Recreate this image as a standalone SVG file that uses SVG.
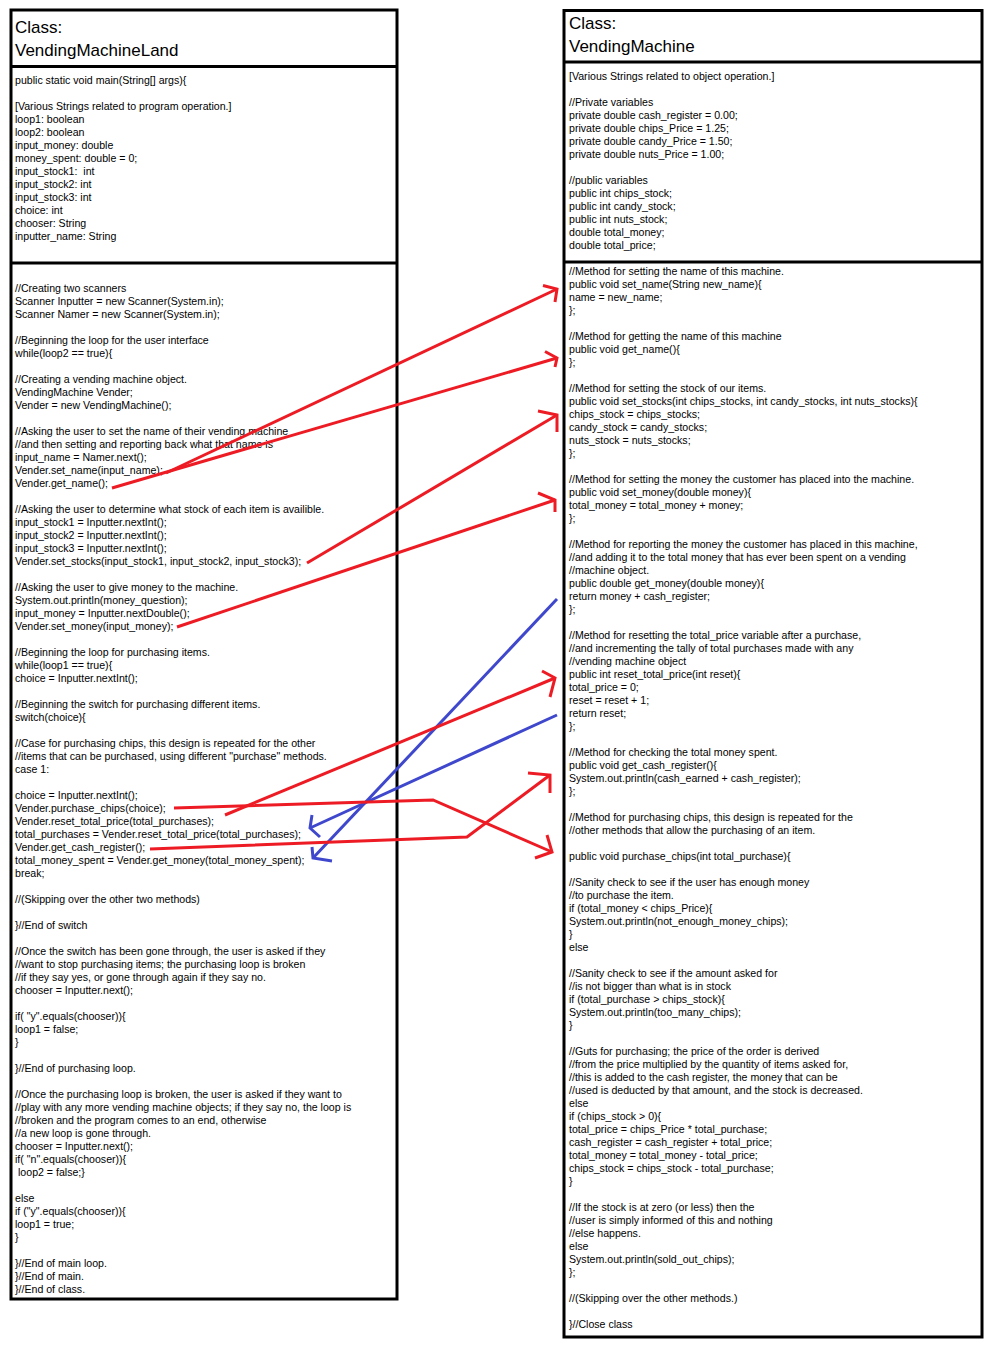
<svg xmlns="http://www.w3.org/2000/svg" width="996" height="1354" viewBox="0 0 996 1354">
<style>
.box{fill:#fff;stroke:#000;stroke-width:3}
.sep{stroke:#000;stroke-width:3}
.h{font-family:"Liberation Sans",Arial,sans-serif;font-size:17px;fill:#000}
.t{font-family:"Liberation Sans",Arial,sans-serif;font-size:10.6px;fill:#000}
.r{fill:none;stroke:#ED1C24;stroke-width:3;stroke-linejoin:miter}
.b{fill:none;stroke:#3F48CC;stroke-width:3;stroke-linejoin:miter}
</style>
<rect width="996" height="1354" fill="#fff"/>
<g id="VendingMachineLand">
<rect class="box" x="11" y="10" width="386" height="1289"/>
<line class="sep" x1="11" y1="66.5" x2="397" y2="66.5"/>
<line class="sep" x1="11" y1="263" x2="397" y2="263"/>
<text class="h"><tspan x="15" y="33">Class:</tspan><tspan x="15" y="56">VendingMachineLand</tspan></text>
<text class="t">
<tspan x="15" y="84">public static void main(String[] args){</tspan>
<tspan x="15" y="110">[Various Strings related to program operation.]</tspan>
<tspan x="15" y="123">loop1: boolean</tspan>
<tspan x="15" y="136">loop2: boolean</tspan>
<tspan x="15" y="149">input_money: double</tspan>
<tspan x="15" y="162">money_spent: double = 0;</tspan>
<tspan x="15" y="175" xml:space="preserve">input_stock1:  int</tspan>
<tspan x="15" y="188">input_stock2: int</tspan>
<tspan x="15" y="201">input_stock3: int</tspan>
<tspan x="15" y="214">choice: int</tspan>
<tspan x="15" y="227">chooser: String</tspan>
<tspan x="15" y="240">inputter_name: String</tspan>
</text>
<text class="t">
<tspan x="15" y="292">//Creating two scanners</tspan>
<tspan x="15" y="305">Scanner Inputter = new Scanner(System.in);</tspan>
<tspan x="15" y="318">Scanner Namer = new Scanner(System.in);</tspan>
<tspan x="15" y="344">//Beginning the loop for the user interface</tspan>
<tspan x="15" y="357">while(loop2 == true){</tspan>
<tspan x="15" y="383">//Creating a vending machine object.</tspan>
<tspan x="15" y="396">VendingMachine Vender;</tspan>
<tspan x="15" y="409">Vender = new VendingMachine();</tspan>
<tspan x="15" y="435">//Asking the user to set the name of their vending machine</tspan>
<tspan x="15" y="448">//and then setting and reporting back what that name is</tspan>
<tspan x="15" y="461">input_name = Namer.next();</tspan>
<tspan x="15" y="474">Vender.set_name(input_name);</tspan>
<tspan x="15" y="487">Vender.get_name();</tspan>
<tspan x="15" y="513">//Asking the user to determine what stock of each item is availible.</tspan>
<tspan x="15" y="526">input_stock1 = Inputter.nextInt();</tspan>
<tspan x="15" y="539">input_stock2 = Inputter.nextInt();</tspan>
<tspan x="15" y="552">input_stock3 = Inputter.nextInt();</tspan>
<tspan x="15" y="565">Vender.set_stocks(input_stock1, input_stock2, input_stock3);</tspan>
<tspan x="15" y="591">//Asking the user to give money to the machine.</tspan>
<tspan x="15" y="604">System.out.println(money_question);</tspan>
<tspan x="15" y="617">input_money = Inputter.nextDouble();</tspan>
<tspan x="15" y="630">Vender.set_money(input_money);</tspan>
<tspan x="15" y="656">//Beginning the loop for purchasing items.</tspan>
<tspan x="15" y="669">while(loop1 == true){</tspan>
<tspan x="15" y="682">choice = Inputter.nextInt();</tspan>
<tspan x="15" y="708">//Beginning the switch for purchasing different items.</tspan>
<tspan x="15" y="721">switch(choice){</tspan>
<tspan x="15" y="747">//Case for purchasing chips, this design is repeated for the other</tspan>
<tspan x="15" y="760">//items that can be purchased, using different "purchase" methods.</tspan>
<tspan x="15" y="773">case 1:</tspan>
<tspan x="15" y="799">choice = Inputter.nextInt();</tspan>
<tspan x="15" y="812">Vender.purchase_chips(choice);</tspan>
<tspan x="15" y="825">Vender.reset_total_price(total_purchases);</tspan>
<tspan x="15" y="838">total_purchases = Vender.reset_total_price(total_purchases);</tspan>
<tspan x="15" y="851">Vender.get_cash_register();</tspan>
<tspan x="15" y="864">total_money_spent = Vender.get_money(total_money_spent);</tspan>
<tspan x="15" y="877">break;</tspan>
<tspan x="15" y="903">//(Skipping over the other two methods)</tspan>
<tspan x="15" y="929">}//End of switch</tspan>
<tspan x="15" y="955">//Once the switch has been gone through, the user is asked if they</tspan>
<tspan x="15" y="968">//want to stop purchasing items; the purchasing loop is broken</tspan>
<tspan x="15" y="981">//if they say yes, or gone through again if they say no.</tspan>
<tspan x="15" y="994">chooser = Inputter.next();</tspan>
<tspan x="15" y="1020">if( "y".equals(chooser)){</tspan>
<tspan x="15" y="1033">loop1 = false;</tspan>
<tspan x="15" y="1046">}</tspan>
<tspan x="15" y="1072">}//End of purchasing loop.</tspan>
<tspan x="15" y="1098">//Once the purchasing loop is broken, the user is asked if they want to</tspan>
<tspan x="15" y="1111">//play with any more vending machine objects; if they say no, the loop is</tspan>
<tspan x="15" y="1124">//broken and the program comes to an end, otherwise</tspan>
<tspan x="15" y="1137">//a new loop is gone through.</tspan>
<tspan x="15" y="1150">chooser = Inputter.next();</tspan>
<tspan x="15" y="1163">if( "n".equals(chooser)){</tspan>
<tspan x="18" y="1176">loop2 = false;}</tspan>
<tspan x="15" y="1202">else</tspan>
<tspan x="15" y="1215">if ("y".equals(chooser)){</tspan>
<tspan x="15" y="1228">loop1 = true;</tspan>
<tspan x="15" y="1241">}</tspan>
<tspan x="15" y="1267">}//End of main loop.</tspan>
<tspan x="15" y="1280">}//End of main.</tspan>
<tspan x="15" y="1293">}//End of class.</tspan>
</text>
</g>
<g id="VendingMachine">
<rect class="box" x="564" y="10.5" width="418" height="1326.5"/>
<line class="sep" x1="564" y1="62" x2="982" y2="62"/>
<line class="sep" x1="564" y1="262" x2="982" y2="262"/>
<text class="h"><tspan x="569" y="29">Class:</tspan><tspan x="569" y="52">VendingMachine</tspan></text>
<text class="t">
<tspan x="569" y="80">[Various Strings related to object operation.]</tspan>
<tspan x="569" y="106">//Private variables</tspan>
<tspan x="569" y="119">private double cash_register = 0.00;</tspan>
<tspan x="569" y="132">private double chips_Price = 1.25;</tspan>
<tspan x="569" y="145">private double candy_Price = 1.50;</tspan>
<tspan x="569" y="158">private double nuts_Price = 1.00;</tspan>
<tspan x="569" y="184">//public variables</tspan>
<tspan x="569" y="197">public int chips_stock;</tspan>
<tspan x="569" y="210">public int candy_stock;</tspan>
<tspan x="569" y="223">public int nuts_stock;</tspan>
<tspan x="569" y="236">double total_money;</tspan>
<tspan x="569" y="249">double total_price;</tspan>
</text>
<text class="t">
<tspan x="569" y="275">//Method for setting the name of this machine.</tspan>
<tspan x="569" y="288">public void set_name(String new_name){</tspan>
<tspan x="569" y="301">name = new_name;</tspan>
<tspan x="569" y="314">};</tspan>
<tspan x="569" y="340">//Method for getting the name of this machine</tspan>
<tspan x="569" y="353">public void get_name(){</tspan>
<tspan x="569" y="366">};</tspan>
<tspan x="569" y="392">//Method for setting the stock of our items.</tspan>
<tspan x="569" y="405">public void set_stocks(int chips_stocks, int candy_stocks, int nuts_stocks){</tspan>
<tspan x="569" y="418">chips_stock = chips_stocks;</tspan>
<tspan x="569" y="431">candy_stock = candy_stocks;</tspan>
<tspan x="569" y="444">nuts_stock = nuts_stocks;</tspan>
<tspan x="569" y="457">};</tspan>
<tspan x="569" y="483">//Method for setting the money the customer has placed into the machine.</tspan>
<tspan x="569" y="496">public void set_money(double money){</tspan>
<tspan x="569" y="509">total_money = total_money + money;</tspan>
<tspan x="569" y="522">};</tspan>
<tspan x="569" y="548">//Method for reporting the money the customer has placed in this machine,</tspan>
<tspan x="569" y="561">//and adding it to the total money that has ever been spent on a vending</tspan>
<tspan x="569" y="574">//machine object.</tspan>
<tspan x="569" y="587">public double get_money(double money){</tspan>
<tspan x="569" y="600">return money + cash_register;</tspan>
<tspan x="569" y="613">};</tspan>
<tspan x="569" y="639">//Method for resetting the total_price variable after a purchase,</tspan>
<tspan x="569" y="652">//and incrementing the tally of total purchases made with any</tspan>
<tspan x="569" y="665">//vending machine object</tspan>
<tspan x="569" y="678">public int reset_total_price(int reset){</tspan>
<tspan x="569" y="691">total_price = 0;</tspan>
<tspan x="569" y="704">reset = reset + 1;</tspan>
<tspan x="569" y="717">return reset;</tspan>
<tspan x="569" y="730">};</tspan>
<tspan x="569" y="756">//Method for checking the total money spent.</tspan>
<tspan x="569" y="769">public void get_cash_register(){</tspan>
<tspan x="569" y="782">System.out.println(cash_earned + cash_register);</tspan>
<tspan x="569" y="795">};</tspan>
<tspan x="569" y="821">//Method for purchasing chips, this design is repeated for the</tspan>
<tspan x="569" y="834">//other methods that allow the purchasing of an item.</tspan>
<tspan x="569" y="860">public void purchase_chips(int total_purchase){</tspan>
<tspan x="569" y="886">//Sanity check to see if the user has enough money</tspan>
<tspan x="569" y="899">//to purchase the item.</tspan>
<tspan x="569" y="912">if (total_money &lt; chips_Price){</tspan>
<tspan x="569" y="925">System.out.println(not_enough_money_chips);</tspan>
<tspan x="569" y="938">}</tspan>
<tspan x="569" y="951">else</tspan>
<tspan x="569" y="977">//Sanity check to see if the amount asked for</tspan>
<tspan x="569" y="990">//is not bigger than what is in stock</tspan>
<tspan x="569" y="1003">if (total_purchase &gt; chips_stock){</tspan>
<tspan x="569" y="1016">System.out.println(too_many_chips);</tspan>
<tspan x="569" y="1029">}</tspan>
<tspan x="569" y="1055">//Guts for purchasing; the price of the order is derived</tspan>
<tspan x="569" y="1068">//from the price multiplied by the quantity of items asked for,</tspan>
<tspan x="569" y="1081">//this is added to the cash register, the money that can be</tspan>
<tspan x="569" y="1094">//used is deducted by that amount, and the stock is decreased.</tspan>
<tspan x="569" y="1107">else</tspan>
<tspan x="569" y="1120">if (chips_stock &gt; 0){</tspan>
<tspan x="569" y="1133">total_price = chips_Price * total_purchase;</tspan>
<tspan x="569" y="1146">cash_register = cash_register + total_price;</tspan>
<tspan x="569" y="1159">total_money = total_money - total_price;</tspan>
<tspan x="569" y="1172">chips_stock = chips_stock - total_purchase;</tspan>
<tspan x="569" y="1185">}</tspan>
<tspan x="569" y="1211">//If the stock is at zero (or less) then the</tspan>
<tspan x="569" y="1224">//user is simply informed of this and nothing</tspan>
<tspan x="569" y="1237">//else happens.</tspan>
<tspan x="569" y="1250">else</tspan>
<tspan x="569" y="1263">System.out.println(sold_out_chips);</tspan>
<tspan x="569" y="1276">};</tspan>
<tspan x="569" y="1302">//(Skipping over the other methods.)</tspan>
<tspan x="569" y="1328">}//Close class</tspan>
</text>
</g>
<g id="connectors">
<g id="call-set_name"><path class="r" d="M166,473 L557,289"/><path class="r" d="M543,285.5 L557,289 L555,302"/></g>
<g id="call-get_name"><path class="r" d="M112,488 L557,358"/><path class="r" d="M545,351.5 L557,358 L555,367"/></g>
<g id="call-set_stocks"><path class="r" d="M307,563 L557,415"/><path class="r" d="M538,411 L557,415 L557,432"/></g>
<g id="call-set_money"><path class="r" d="M177,627 L555,500"/><path class="r" d="M538,493 L555,500 L555,512"/></g>
<g id="return-get_money"><path class="b" d="M557,599 L313,858"/><path class="b" d="M312,847 L313,858 L332,861"/></g>
<g id="return-reset_total_price"><path class="b" d="M557,715 L310,828"/><path class="b" d="M312,815 L310,828 L320,837"/></g>
<g id="call-purchase_chips"><path class="r" d="M174,808 L433,800 L552,852"/><path class="r" d="M547,835 L552,852 L535,858"/></g>
<g id="call-reset_total_price"><path class="r" d="M225,815 L555,678"/><path class="r" d="M542,671 L555,678 L550,697"/></g>
<g id="call-get_cash_register"><path class="r" d="M150,849 L467,837 L550,775"/><path class="r" d="M528,773 L550,775 L550,793"/></g>
</g>
</svg>
